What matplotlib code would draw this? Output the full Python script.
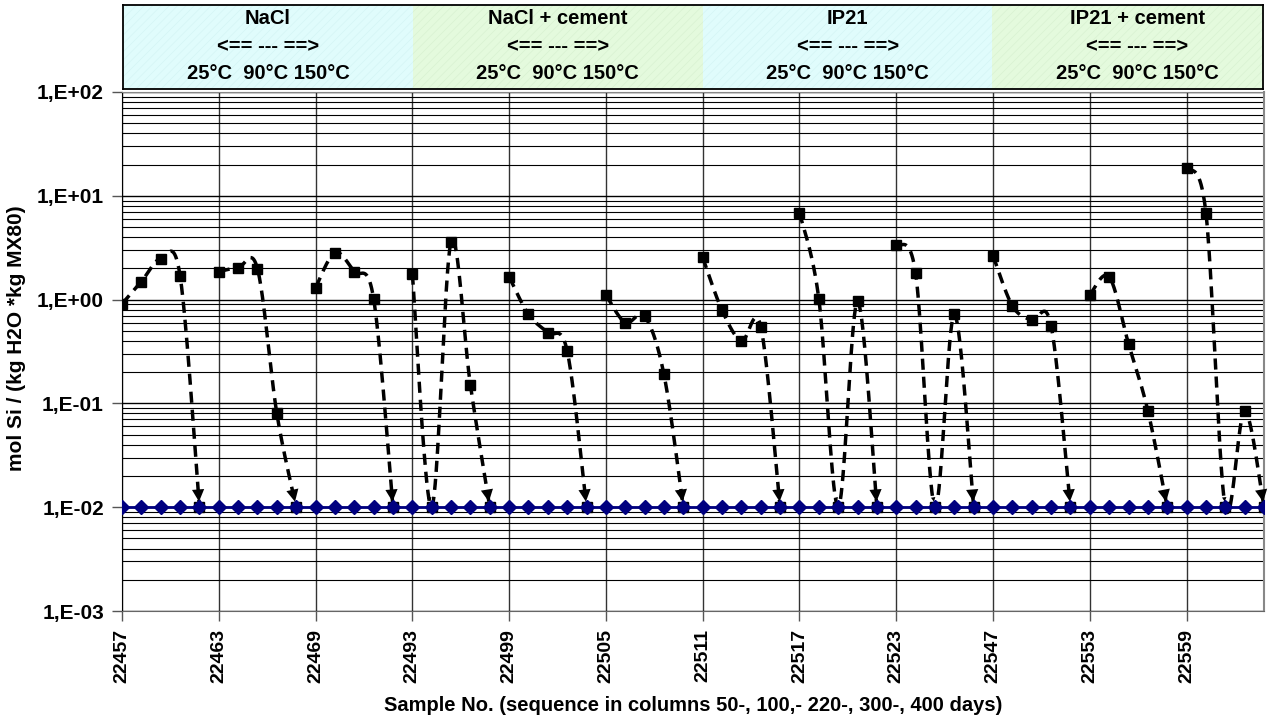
import numpy as np
import matplotlib
matplotlib.use("Agg")
import matplotlib.pyplot as plt
from matplotlib.ticker import FixedLocator, NullFormatter

# ---- data -------------------------------------------------------------
panels = ["NaCl", "NaCl + cement", "IP21", "IP21 + cement"]
temperatures = "25°C  90°C 150°C"
tick_samples = ["22457", "22463", "22469", "22493", "22499", "22505",
                "22511", "22517", "22523", "22547", "22553", "22559"]

detection_limit = 0.01

# Si concentration, 5 ageing times (50, 100, 220, 300, 400 d) per temperature;
# values at the detection limit are below detection.
si_nacl = [0.91, 1.49, 2.48, 1.70, 0.01,
           1.86, 2.03, 1.98, 0.080, 0.01,
           1.30, 2.83, 1.86, 1.02, 0.01]
si_nacl_cement = [1.78, 0.01, 3.6, 0.15, 0.01,
                  1.66, 0.72, 0.48, 0.32, 0.01,
                  1.11, 0.60, 0.69, 0.19, 0.01]
si_ip21 = [2.55, 0.79, 0.40, 0.55, 0.01,
           6.9, 1.02, 0.01, 0.96, 0.01,
           3.33, 1.80, 0.01, 0.72, 0.01]
si_ip21_cement = [2.65, 0.87, 0.63, 0.56, 0.01,
                  1.11, 1.66, 0.376, 0.085, 0.01,
                  18.6, 6.84, 0.01, 0.085, 0.01]

si_values = np.array(si_nacl + si_nacl_cement + si_ip21 + si_ip21_cement)
limit_values = np.array([detection_limit] * len(si_values))
n = len(si_values)
x = np.arange(n)
per_temp = 5
per_panel = 15

plt.rcParams["font.family"] = ["Liberation Sans", "DejaVu Sans"]
plt.rcParams["font.weight"] = "bold"
plt.rcParams["hatch.linewidth"] = 0.4

fig = plt.figure(figsize=(12.71, 7.28), dpi=100)
ax = fig.add_axes([122 / 1271, 1 - 611 / 728, (1264 - 122) / 1271, (611 - 92) / 728])
axh = fig.add_axes([123 / 1271, 1 - 89 / 728, (1263 - 123) / 1271, (89 - 5) / 728])


def smooth(px, py, steps=40):
    """Smoothed line through the points (cubic Bezier, Catmull-Rom tangents)."""
    P = np.column_stack([px, py]).astype(float)
    ext = np.vstack([P[0], P, P[-1]])
    segs = []
    for i in range(len(P) - 1):
        p0, p1, p2, p3 = ext[i], ext[i + 1], ext[i + 2], ext[i + 3]
        c1 = p1 + (p2 - p0) / 6.0
        c2 = p2 - (p3 - p1) / 6.0
        t = np.linspace(0, 1, steps)[:, None]
        b = ((1 - t) ** 3) * p1 + 3 * ((1 - t) ** 2) * t * c1 + 3 * (1 - t) * t ** 2 * c2 + t ** 3 * p2
        segs.append(b)
    return segs


# ---- measured series: dashed smoothed lines per temperature ----------
for g in range(n // per_temp):
    idx = x[g * per_temp:(g + 1) * per_temp]
    vals = si_values[idx]
    segs = smooth(idx, np.log10(vals))
    curve = np.vstack(segs)
    ax.plot(curve[:, 0], 10 ** curve[:, 1], color="black", lw=2.5,
            dashes=(3.2, 2.0), zorder=3, dash_capstyle="butt")
    for j, seg in enumerate(segs):
        end = idx[j + 1]
        if si_values[end] <= detection_limit:
            last = end == idx[-1]
            k = int(len(seg) * 0.8)
            ax.annotate("", xy=(seg[-1, 0], 10 ** seg[-1, 1]),
                        xytext=(seg[k, 0], 10 ** seg[k, 1]),
                        arrowprops=dict(arrowstyle="-|>", color="black", lw=0,
                                        mutation_scale=22 if last else 8,
                                        shrinkA=0, shrinkB=4),
                        zorder=4)

ax.plot(x, si_values, ls="none", marker="s", ms=7.5, color="black", zorder=4)

# ---- detection limit --------------------------------------------------
ax.plot(x, limit_values, color="#000080", lw=2, marker="D", ms=7.5,
        markeredgecolor="#000080", zorder=5)

# ---- axes -------------------------------------------------------------
ax.set_yscale("log")
ax.set_ylim(1e-3, 1e2)
ax.set_xlim(0, n - 1)
ax.yaxis.set_major_locator(FixedLocator([1e-3, 1e-2, 1e-1, 1e0, 1e1, 1e2]))
ax.set_yticklabels(["1,E-03", "1,E-02", "1,E-01", "1,E+00", "1,E+01", "1,E+02"],
                   fontsize=15, fontweight="bold")
minor = [m * 10.0 ** e for e in range(-3, 2) for m in range(2, 10)]
ax.yaxis.set_minor_locator(FixedLocator(minor))
ax.yaxis.set_minor_formatter(NullFormatter())
ax.tick_params(axis="y", which="major", length=7, width=1, pad=6, color="#555555")
ax.tick_params(axis="y", which="minor", length=0)

ax.set_xticks(x[::per_temp])
ax.set_xticklabels(tick_samples, rotation=90, fontsize=14, fontweight="bold")
ax.tick_params(axis="x", length=7, width=1, pad=6, color="#555555")

ax.grid(True, which="major", axis="y", color="black", lw=1.0)
ax.grid(True, which="minor", axis="y", color="black", lw=0.8)
ax.grid(True, which="major", axis="x", color="#333333", lw=1.0)
ax.set_axisbelow(True)
for side in ["top", "right"]:
    ax.spines[side].set_color("#888888")
ax.spines["left"].set_color("black")
ax.spines["bottom"].set_color("#666666")
ax.spines["right"].set_linewidth(1.5)

ax.set_xlabel("Sample No. (sequence in columns 50-, 100,- 220-, 300-, 400 days)",
              fontsize=14.5, fontweight="bold", labelpad=9)
fig.text(0.013, 1 - 338 / 728, "mol Si / (kg H2O *kg MX80)", rotation=90,
         ha="center", va="center", fontsize=15, fontweight="bold")

# ---- header boxes -----------------------------------------------------
axh.set_xlim(0, n - 1)
axh.set_ylim(0, 1)
axh.set_xticks([])
axh.set_yticks([])
fills = [("#E0FCFC", "#D2F3F3"), ("#E4FADD", "#D6F0CF")]
for p, name in enumerate(panels):
    lo = p * per_panel
    hi = min((p + 1) * per_panel, n - 1)
    face, hatch_col = fills[p % 2]
    axh.axvspan(lo, hi, facecolor=face, edgecolor=hatch_col, hatch="////", lw=0)
    cx = p * per_panel + per_panel / 2
    axh.text(cx, 0.845, name, ha="center", va="center", fontsize=14.5, fontweight="bold")
    axh.text(cx, 0.50, "<== --- ==>", ha="center", va="center", fontsize=14.5, fontweight="bold")
    axh.text(cx, 0.18, temperatures, ha="center", va="center", fontsize=14.5, fontweight="bold")
for s in axh.spines.values():
    s.set_color("black")
    s.set_linewidth(1.3)

fig.savefig("out.png", dpi=100)
